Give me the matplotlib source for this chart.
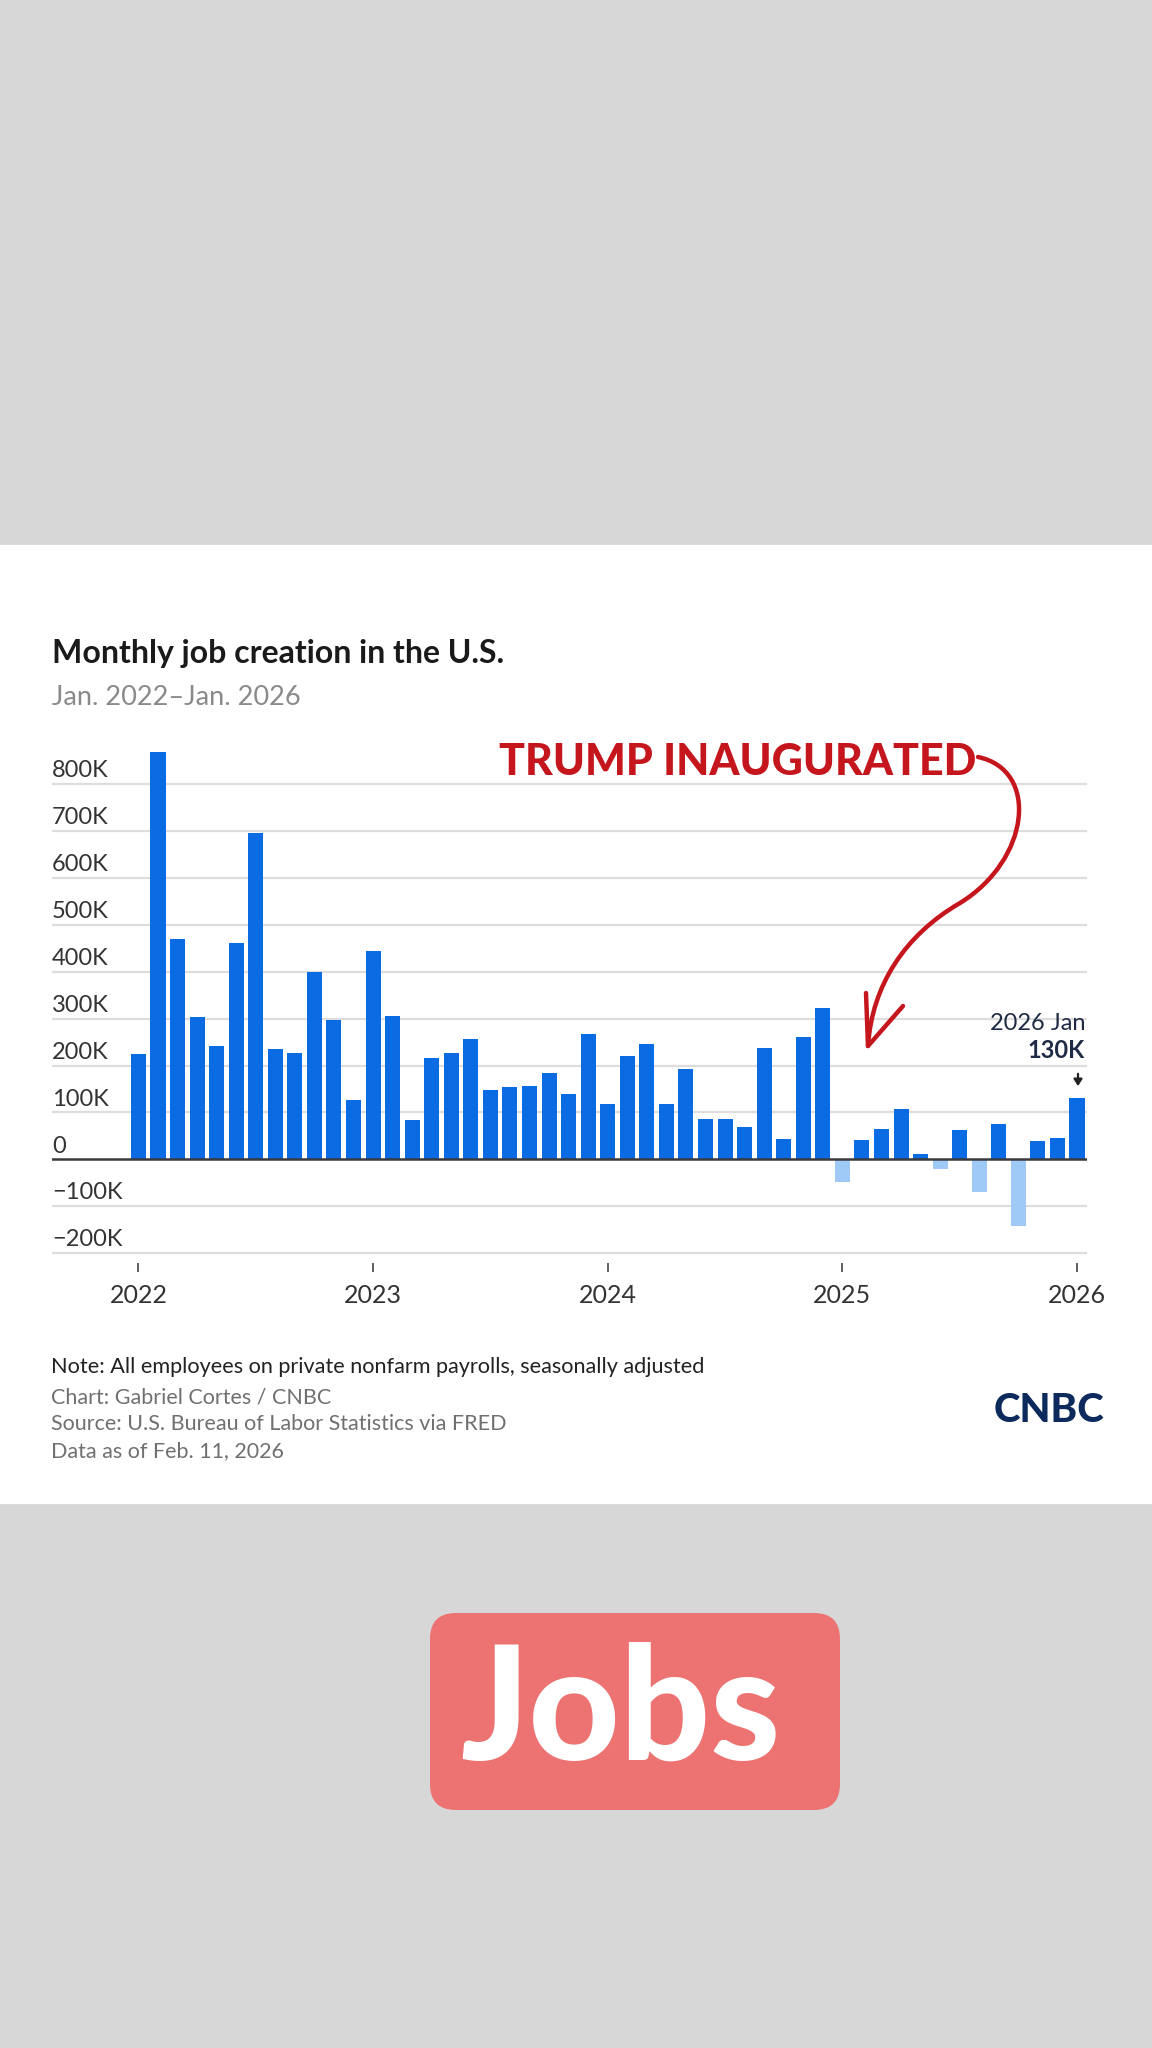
import matplotlib
matplotlib.use("Agg")
import matplotlib.pyplot as plt
from matplotlib.path import Path
from matplotlib.patches import PathPatch, FancyBboxPatch, Rectangle, FancyArrowPatch
from matplotlib.transforms import Affine2D

plt.rcParams['font.family'] = ['Lato', 'DejaVu Sans']

# monthly change, private nonfarm payrolls (thousands), Jan 2022 - Jan 2026
values_k = [225, 868, 470, 304, 241, 461, 695, 236, 227, 400, 296, 126,
            444, 305, 83, 215, 226, 256, 147, 155, 157, 185, 140, 268,
            118, 221, 246, 117, 192, 85, 86, 69, 238, 43, 260, 322,
            -49, 41, 65, 107, 12, -21, 63, -70, 75, -142, 39, 46, 130]
year_ticks = [0, 12, 24, 36, 48]
year_labels = ['2022', '2023', '2024', '2025', '2026']
y_ticks = [-200, -100, 0, 100, 200, 300, 400, 500, 600, 700, 800]
y_labels = ['\u2212200K', '\u2212100K', '0', '100K', '200K', '300K', '400K',
            '500K', '600K', '700K', '800K']

W, H = 1152, 2048
fig = plt.figure(figsize=(W / 100, H / 100), dpi=100, facecolor='#d7d7d7')
# pixel coords measured from the top-left corner
px = Affine2D().scale(1 / W, -1 / H).translate(0, 1) + fig.transFigure

fig.patches.append(Rectangle((0, 545), W, 958, transform=px, color='white', zorder=-1))

# plot area
top, bottom = 746.6, 1262.5
ax = fig.add_axes([52 / W, 1 - bottom / H, (1087 - 52) / W, (bottom - top) / H])
ax.set_zorder(2)
ax.set_facecolor('none')
ax.set_xlim(-4.42, 48.51)
ax.set_ylim(-220, 880)

x = list(range(len(values_k)))
colors = ['#0b6be3' if v >= 0 else '#9fc9f6' for v in values_k]
ax.bar(x, values_k, width=0.77, color=colors, zorder=2)

for v, lab in zip(y_ticks, y_labels):
    if v == 0:
        ax.axhline(0, color='#3a3a3a', lw=1.8, zorder=3)
    else:
        ax.axhline(v, color='#dddddd', lw=1.6, zorder=0)
    ax.annotate(lab, xy=(0, v), xycoords=('axes fraction', 'data'),
                xytext=(0, 2), textcoords='offset points',
                ha='left', va='bottom', fontsize=17, color='#333333')

for s in ax.spines.values():
    s.set_visible(False)
ax.set_yticks([])
ax.set_xticks(year_ticks)
ax.set_xticklabels(year_labels)
ax.tick_params(axis='x', length=6.5, width=1.2, color='#444444', pad=9,
               labelsize=18, labelcolor='#333333')

# titles
fig.text(52, 663.5, 'Monthly job creation in the U.S.', transform=px,
         fontsize=23, fontweight='bold', color='#1a1a1a', va='baseline')
fig.text(52, 705, 'Jan. 2022\u2013Jan. 2026', transform=px,
         fontsize=19.5, color='#8a8a8a', va='baseline')

# annotation
fig.text(499, 775, 'TRUMP INAUGURATED', transform=px, fontsize=31,
         fontweight='black', color='#c4161c', va='baseline')
verts = [(978, 757), (1040, 770), (1030, 860), (960, 903),
         (905, 935), (872, 985), (868, 1046)]
codes = [Path.MOVETO] + [Path.CURVE4] * 6
fig.patches.append(PathPatch(Path(verts, codes), transform=px, fill=False,
                             edgecolor='#c4161c', lw=3.2, capstyle='round', zorder=3))
head = Path([(866, 993), (868, 1046), (903, 1006)],
            [Path.MOVETO, Path.LINETO, Path.LINETO])
fig.patches.append(PathPatch(head, transform=px, fill=False, edgecolor='#c4161c',
                             lw=3.2, capstyle='round', joinstyle='round', zorder=3))

fig.text(1085, 1030, '2026 Jan', transform=px, fontsize=17, color='#1f2b45',
         ha='right', va='baseline')
fig.text(1085, 1058, '130K', transform=px, fontsize=17, fontweight='bold',
         color='#1f2b45', ha='right', va='baseline')
fig.patches.append(FancyArrowPatch((1078, 1071), (1078, 1089), transform=px,
                                   arrowstyle='-|>,head_length=4,head_width=2.5',
                                   color='#222222', lw=1.6, zorder=3))

# footer
fig.text(51, 1373, 'Note: All employees on private nonfarm payrolls, seasonally adjusted',
         transform=px, fontsize=15.6, color='#222222', va='baseline')
foot = ['Chart: Gabriel Cortes / CNBC',
        'Source: U.S. Bureau of Labor Statistics via FRED',
        'Data as of Feb. 11, 2026']
for i, t in enumerate(foot):
    fig.text(51, 1404 + i * 26.5, t, transform=px, fontsize=15.5,
             color='#707070', va='baseline')
fig.text(1104, 1422, 'CNBC', transform=px, fontsize=29, fontweight='black',
         color='#0c2a5c', ha='right', va='baseline')

# tag below the card
fig.patches.append(FancyBboxPatch((430, 1613), 410, 197, transform=px,
                                  boxstyle='round,pad=0,rounding_size=26',
                                  facecolor='#ec7372', edgecolor='none'))
fig.text(620, 1760, 'Jobs', transform=px, fontsize=114, fontweight='black',
         color='white', ha='center', va='baseline')

fig.savefig('out.png', dpi=100, facecolor=fig.get_facecolor())
